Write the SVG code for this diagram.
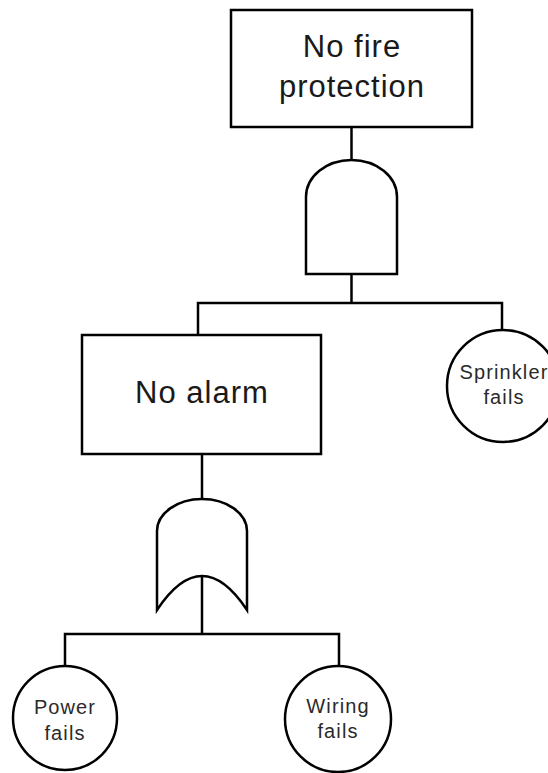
<svg xmlns="http://www.w3.org/2000/svg" width="548" height="773" viewBox="0 0 548 773">
  <style>
    .shape { fill: #ffffff; stroke: #000000; stroke-width: 2.5; }
    .wire { fill: none; stroke: #000000; stroke-width: 2.5; }
    .big { font-family: "Liberation Sans", Arial, sans-serif; font-size: 31px; letter-spacing: 1px; fill: #1a1a1a; text-anchor: middle; }
    .small { font-family: "Liberation Sans", Arial, sans-serif; font-size: 20px; letter-spacing: 1.1px; fill: #2a2a2a; text-anchor: middle; }
  </style>
  <rect width="548" height="773" fill="#ffffff"/>

  <!-- connectors -->
  <g id="connectors">
    <path class="wire" d="M351.5,127 V160"/>
    <path class="wire" d="M351.5,274 V303"/>
    <path class="wire" d="M198,335 V303 H502 V330"/>
    <path class="wire" d="M202,454 V499"/>
    <path class="wire" d="M202,576 V634"/>
    <path class="wire" d="M65,666 V634 H339 V666"/>
  </g>

  <!-- top event -->
  <g id="no-fire-protection">
    <rect class="shape" x="231" y="10" width="241" height="117"/>
    <text class="big" x="352" y="57">No fire</text>
    <text class="big" x="352" y="97">protection</text>
  </g>

  <!-- AND gate -->
  <g id="and-gate">
    <path class="shape" d="M306,274 V197 A45.5,37 0 0 1 397,197 V274 Z"/>
  </g>

  <!-- intermediate event -->
  <g id="no-alarm">
    <rect class="shape" x="82" y="335" width="239" height="119"/>
    <text class="big" x="202" y="403">No alarm</text>
  </g>

  <!-- basic event -->
  <g id="sprinkler-fails">
    <circle class="shape" cx="503" cy="386" r="56"/>
    <text class="small" x="504" y="379">Sprinkler</text>
    <text class="small" x="504" y="404">fails</text>
  </g>

  <!-- OR gate -->
  <g id="or-gate">
    <path class="shape" d="M157,610 V531 A45,32 0 0 1 247,531 V610 Q202,542 157,610 Z"/>
  </g>

  <!-- basic events -->
  <g id="power-fails">
    <circle class="shape" cx="65" cy="718" r="52"/>
    <text class="small" x="65" y="714">Power</text>
    <text class="small" x="65" y="740">fails</text>
  </g>

  <g id="wiring-fails">
    <circle class="shape" cx="338" cy="719" r="53"/>
    <text class="small" x="338" y="713">Wiring</text>
    <text class="small" x="338" y="738">fails</text>
  </g>
</svg>
